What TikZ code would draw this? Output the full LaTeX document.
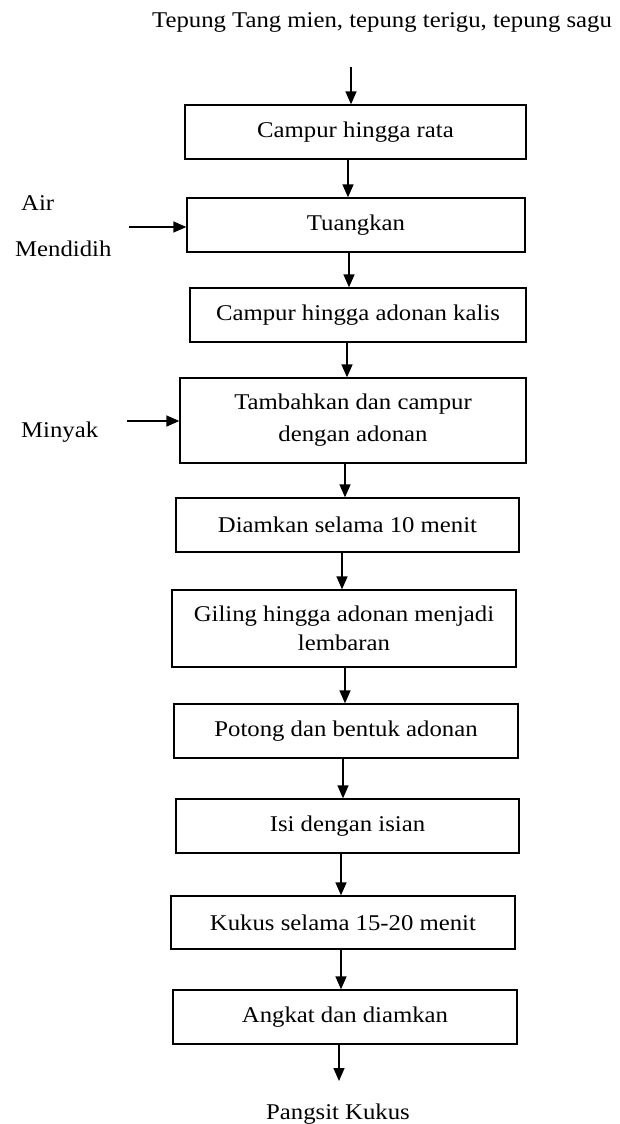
\documentclass[tikz,border=0pt]{standalone}
\usepackage{fontspec}
\setmainfont{Liberation Serif}[FakeStretch=1.1]
\usetikzlibrary{arrows.meta}
\begin{document}
\begin{tikzpicture}[x=1pt,y=-1pt,
  box/.style={draw,line width=1.3pt,inner sep=0pt,align=center,
    font=\fontsize{22.5}{30}\selectfont},
  lbl/.style={inner sep=0pt,anchor=base,font=\fontsize{22.5}{30}\selectfont},
  arr/.style={line width=1.4pt,-{Triangle[length=13pt,width=11pt]}}]
\useasboundingbox (0,0) rectangle (619,1124);

\node[lbl] (top) at (382,28) {Tepung Tang mien, tepung terigu, tepung sagu};
\node[lbl,anchor=base west] (air) at (21,210) {Air};
\node[lbl,anchor=base west] (mendidih) at (15,256) {Mendidih};
\node[lbl,anchor=base west] (minyak) at (21,437) {Minyak};
\node[lbl] (out) at (338,1119) {Pangsit Kukus};

\node[box,minimum width=341pt,minimum height=54pt] (b1) at (355.5,132) {Campur hingga rata};
\node[box,minimum width=338pt,minimum height=54pt] (b2) at (356,225) {Tuangkan};
\node[box,minimum width=336pt,minimum height=54pt] (b3) at (358,315) {Campur hingga adonan kalis};
\node[box,minimum width=346pt,minimum height=85pt,font=\fontsize{22.5}{32}\selectfont] (b4) at (353,420.5) {Tambahkan dan campur\\dengan adonan};
\node[box,minimum width=343pt,minimum height=54pt] (b5) at (347.5,525) {Diamkan selama 10 menit};
\node[box,minimum width=344pt,minimum height=77pt,font=\fontsize{22.5}{29}\selectfont] (b6) at (344,628.5) {Giling hingga adonan menjadi\\lembaran};
\node[box,minimum width=344pt,minimum height=54pt] (b7) at (346,731) {Potong dan bentuk adonan};
\node[box,minimum width=343pt,minimum height=54pt] (b8) at (347.5,826) {Isi dengan isian};
\node[box,minimum width=344pt,minimum height=53pt] (b9) at (343,922.5) {Kukus selama 15-20 menit};
\node[box,minimum width=344pt,minimum height=54pt] (b10) at (345,1017) {Angkat dan diamkan};

\coordinate (s0) at (351,67);
\coordinate (ax1) at (348,0);
\coordinate (ax2) at (349,0);
\coordinate (ax3) at (347,0);
\coordinate (ax4) at (345,0);
\coordinate (ax5) at (342,0);
\coordinate (ax6) at (345,0);
\coordinate (ax7) at (343,0);
\coordinate (ax8) at (341,0);
\coordinate (ax9) at (341,0);
\coordinate (e10) at (339,1081);
\coordinate (sair) at (129,227);
\coordinate (smin) at (127,421);

\draw[arr] (s0) -- (b1.north -| s0);
\draw[arr] (b1.south -| ax1) -- (b2.north -| ax1);
\draw[arr] (b2.south -| ax2) -- (b3.north -| ax2);
\draw[arr] (b3.south -| ax3) -- (b4.north -| ax3);
\draw[arr] (b4.south -| ax4) -- (b5.north -| ax4);
\draw[arr] (b5.south -| ax5) -- (b6.north -| ax5);
\draw[arr] (b6.south -| ax6) -- (b7.north -| ax6);
\draw[arr] (b7.south -| ax7) -- (b8.north -| ax7);
\draw[arr] (b8.south -| ax8) -- (b9.north -| ax8);
\draw[arr] (b9.south -| ax9) -- (b10.north -| ax9);
\draw[arr] (b10.south -| e10) -- (e10);
\draw[arr] (sair) -- (sair -| b2.west);
\draw[arr] (smin) -- (smin -| b4.west);
\end{tikzpicture}
\end{document}
